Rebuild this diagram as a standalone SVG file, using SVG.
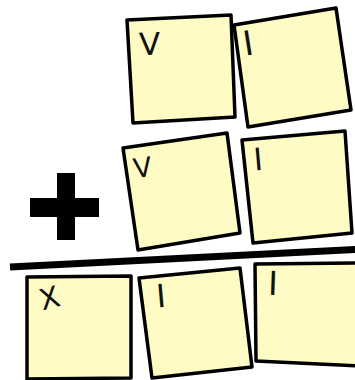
<svg xmlns="http://www.w3.org/2000/svg" width="355" height="380" viewBox="0 0 355 380">
<style>
.note{fill:#fefbc4;stroke:#000;stroke-width:3.5;stroke-linejoin:round}
.mark{font-family:"DejaVu Sans",sans-serif;fill:#111;text-anchor:middle}
</style>
<rect width="355" height="380" fill="#fff"/>
<g id="n1"><polygon class="note" points="127,20 231,15 235,117 133,123"/>
<text class="mark" font-size="31" transform="translate(150,55) rotate(-2)">V</text></g>
<g id="n2"><polygon class="note" points="234,25 336,8 351,110 248,127"/>
<text class="mark" font-size="34" transform="translate(250,55) rotate(-9)">I</text></g>
<g id="n3"><polygon class="note" points="123,148 227,133 240,233 138,250"/>
<text class="mark" font-size="27" transform="translate(144,177) rotate(-8)">V</text></g>
<g id="n4"><polygon class="note" points="242,140 345,131 352,233 253,243"/>
<text class="mark" font-size="31" transform="translate(259,170) rotate(-5)">I</text></g>
<g id="plus"><rect x="57" y="173" width="18" height="67"/><rect x="30" y="198" width="69" height="19"/></g>
<line x1="10" y1="267" x2="356" y2="249.5" stroke="#000" stroke-width="7"/>
<g id="n5"><polygon class="note" points="27,277 131,276 131,378 27,379"/>
<text class="mark" font-size="29" transform="translate(52,308) rotate(-15)">X</text></g>
<g id="n6"><polygon class="note" points="139,278 240,268 252,367 152,378"/>
<text class="mark" font-size="32" transform="translate(162,307) rotate(-5)">I</text></g>
<g id="n7"><polygon class="note" points="255,264 358,263 358,366 256,361"/>
<text class="mark" font-size="33" transform="translate(272.5,295) rotate(2)">I</text></g>
</svg>
